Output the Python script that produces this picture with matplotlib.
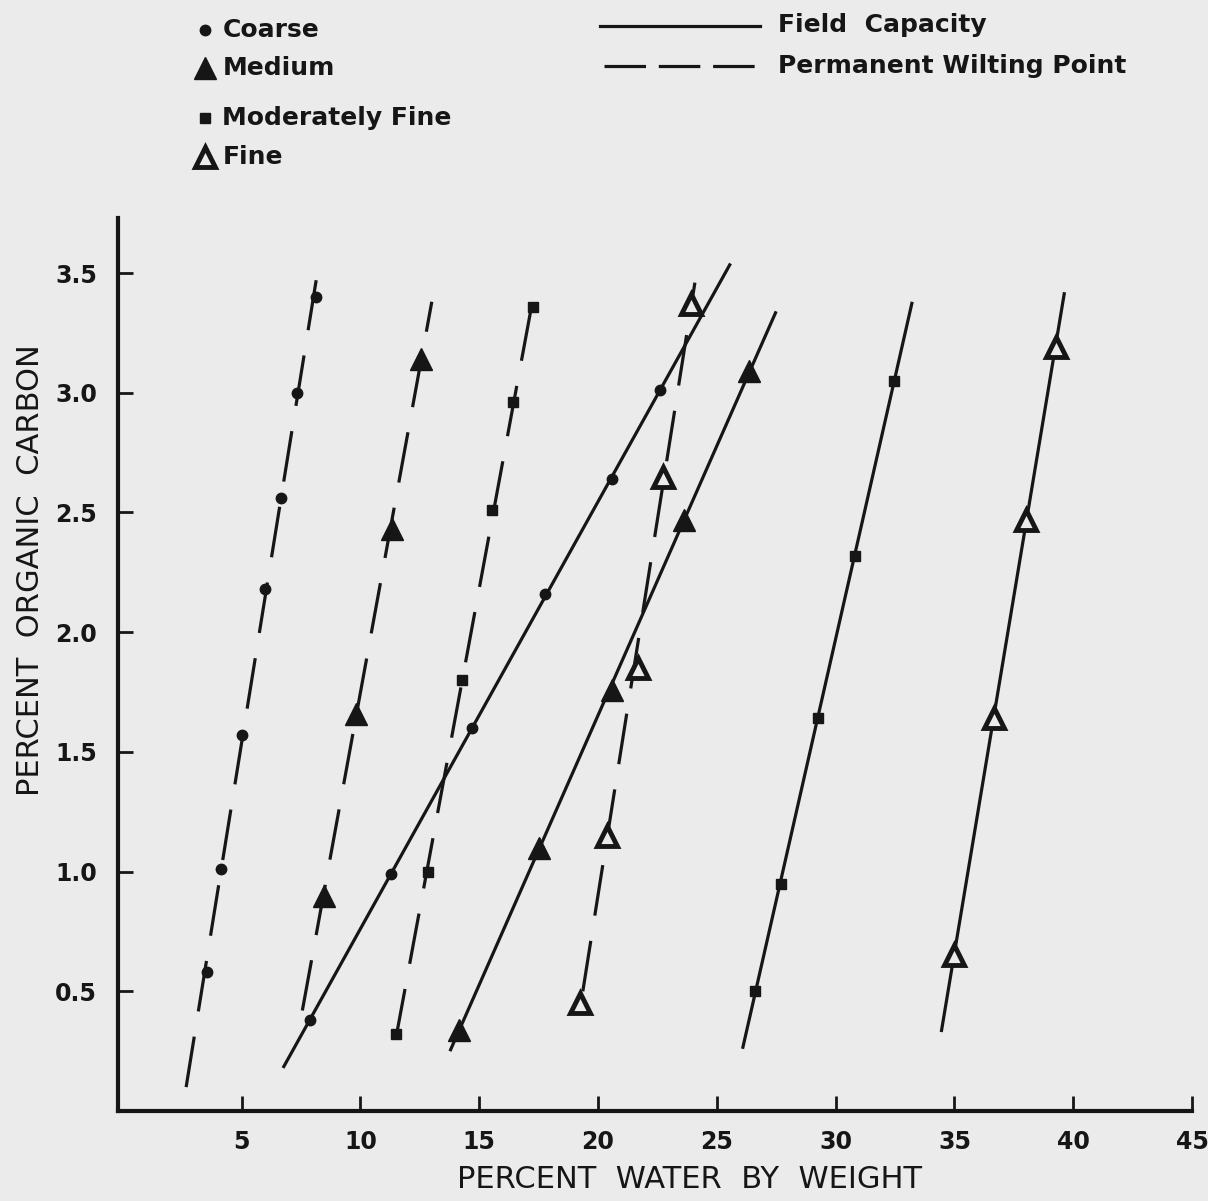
import numpy as np
import matplotlib.pyplot as plt
from matplotlib.lines import Line2D

# percent organic carbon (y) vs percent water by weight (x)
coarse_pwp_c = [0.58, 1.01, 1.57, 2.18, 2.56, 3.00, 3.40]
coarse_pwp_w = [3.54, 4.12, 5.00, 5.97, 6.65, 7.35, 8.12]
coarse_fc_c = [0.38, 0.99, 1.60, 2.16, 2.64, 3.01]
coarse_fc_w = [7.86, 11.30, 14.71, 17.79, 20.57, 22.60]

medium_pwp_c = [0.90, 1.66, 2.43, 3.14]
medium_pwp_w = [8.45, 9.80, 11.31, 12.54]
medium_fc_c = [0.34, 1.10, 1.76, 2.47, 3.09]
medium_fc_w = [14.14, 17.52, 20.58, 23.62, 26.35]

modfine_pwp_c = [0.32, 1.00, 1.80, 2.51, 2.96, 3.36]
modfine_pwp_w = [11.51, 12.84, 14.29, 15.54, 16.42, 17.27]
modfine_fc_c = [0.50, 0.95, 1.64, 2.32, 3.05]
modfine_fc_w = [26.60, 27.69, 29.25, 30.81, 32.45]

fine_pwp_c = [0.45, 1.15, 1.85, 2.65, 3.37]
fine_pwp_w = [19.23, 20.37, 21.67, 22.74, 23.90]
fine_fc_c = [0.65, 1.64, 2.47, 3.19]
fine_fc_w = [34.99, 36.65, 38.00, 39.27]

# carbon range covered by each hand-fitted line
line_span = {
    'coarse_pwp': (0.10, 3.47), 'coarse_fc': (0.18, 3.54),
    'medium_pwp': (0.42, 3.38), 'medium_fc': (0.25, 3.34),
    'modfine_pwp': (0.30, 3.39), 'modfine_fc': (0.26, 3.38),
    'fine_pwp': (0.50, 3.46), 'fine_fc': (0.33, 3.42),
}

x_ticks = [5, 10, 15, 20, 25, 30, 35, 40, 45]
y_ticks = [0.5, 1.0, 1.5, 2.0, 2.5, 3.0, 3.5]

INK = '#161616'
PAPER = '#ebebeb'
plt.rcParams['font.family'] = ['DejaVu Sans']

fig = plt.figure(figsize=(12.08, 12.01), dpi=100, facecolor=PAPER)
ax = fig.add_axes([0.0977, 0.0749, 0.8891, 0.7436])
ax.set_facecolor(PAPER)

marker_style = {
    'coarse': dict(marker='o', ms=7.5, mfc=INK, mec=INK, mew=1),
    'medium': dict(marker='^', ms=16, mfc=INK, mec=INK, mew=1),
    'modfine': dict(marker='s', ms=7.5, mfc=INK, mec=INK, mew=1),
    'fine': dict(marker='^', ms=14.5, mfc=PAPER, mec=INK, mew=3.5),
}

series = [
    ('coarse', 'pwp', coarse_pwp_c, coarse_pwp_w),
    ('coarse', 'fc', coarse_fc_c, coarse_fc_w),
    ('medium', 'pwp', medium_pwp_c, medium_pwp_w),
    ('medium', 'fc', medium_fc_c, medium_fc_w),
    ('modfine', 'pwp', modfine_pwp_c, modfine_pwp_w),
    ('modfine', 'fc', modfine_fc_c, modfine_fc_w),
    ('fine', 'pwp', fine_pwp_c, fine_pwp_w),
    ('fine', 'fc', fine_fc_c, fine_fc_w),
]

for tex, kind, c, w in series:
    slope, icpt = np.polyfit(c, w, 1)
    c0, c1 = line_span[tex + '_' + kind]
    cl = np.array([c0, c1])
    if kind == 'fc':
        ax.plot(icpt + slope * cl, cl, color=INK, lw=2.3, solid_capstyle='butt', zorder=2)
    else:
        ax.plot(icpt + slope * cl, cl, color=INK, lw=2.3, dashes=(16, 8),
                dash_capstyle='butt', zorder=2)
    ax.plot(w, c, ls='none', zorder=3, **marker_style[tex])

ax.set_xlim(-0.2, 45)
ax.set_ylim(0, 3.73)
ax.set_xticks(x_ticks)
ax.set_xticklabels([str(t) for t in x_ticks])
ax.set_yticks(y_ticks)
ax.set_yticklabels(['%.1f' % t for t in y_ticks])

for s in ['top', 'right']:
    ax.spines[s].set_visible(False)
for s in ['left', 'bottom']:
    ax.spines[s].set_linewidth(3)
    ax.spines[s].set_color(INK)
ax.tick_params(direction='in', length=11, width=2, color=INK, labelcolor=INK,
               labelsize=17)
ax.tick_params(axis='x', pad=14)
ax.tick_params(axis='y', pad=15)
for lab in ax.get_xticklabels() + ax.get_yticklabels():
    lab.set_fontweight('bold')

fig.text(0.571, 0.018, 'PERCENT  WATER  BY  WEIGHT', ha='center', va='center',
         fontsize=22, color=INK)
fig.text(0.025, 0.525, 'PERCENT  ORGANIC  CARBON', ha='center', va='center',
         rotation=90, fontsize=22, color=INK)

# legend, drawn by hand like the original
legend_rows = [('coarse', 'Coarse', 0.975), ('medium', 'Medium', 0.943),
               ('modfine', 'Moderately Fine', 0.902), ('fine', 'Fine', 0.869)]
for tex, name, yy in legend_rows:
    fig.add_artist(Line2D([0.170], [yy], transform=fig.transFigure, ls='none',
                          **marker_style[tex]))
    fig.text(0.184, yy, name, ha='left', va='center', fontsize=18,
             fontweight='bold', color=INK)

fig.add_artist(Line2D([0.497, 0.629], [0.978, 0.978], transform=fig.transFigure,
                      color=INK, lw=2.3))
fig.text(0.644, 0.979, 'Field  Capacity', ha='left', va='center', fontsize=18,
         fontweight='bold', color=INK)
fig.add_artist(Line2D([0.500, 0.628], [0.945, 0.945], transform=fig.transFigure,
                      color=INK, lw=2.3, dashes=(13, 4)))
fig.text(0.644, 0.945, 'Permanent Wilting Point', ha='left', va='center',
         fontsize=18, fontweight='bold', color=INK)

fig.savefig('out.png', dpi=100, facecolor=PAPER)
